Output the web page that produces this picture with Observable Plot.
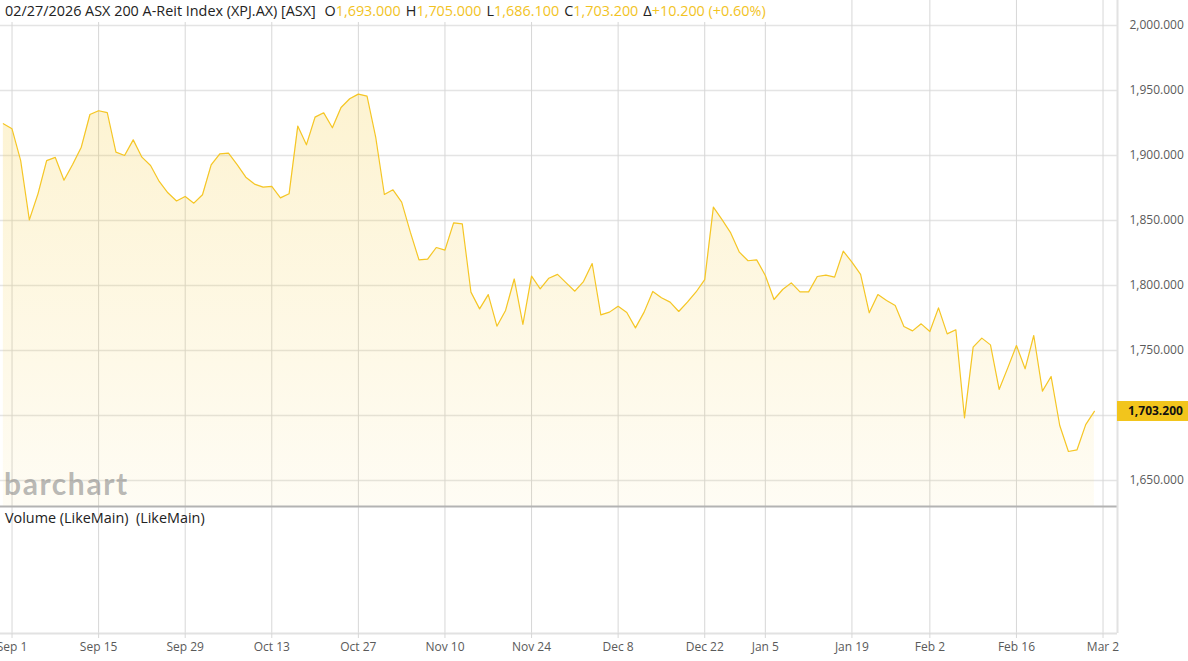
<!DOCTYPE html>
<html>
<head>
<meta charset="utf-8">
<script src="https://cdn.jsdelivr.net/npm/d3@7"></script>
<script src="https://cdn.jsdelivr.net/npm/@observablehq/plot@0.6"></script>
<style>
  html, body { margin: 0; padding: 0; background: #fff; }
  #wrap { position: relative; width: 1188px; height: 661px; overflow: hidden; font-family: "Open Sans", "Noto Sans", sans-serif; }
  #wrap svg { position: absolute; left: 0; top: 0; }
  #header { position: absolute; left: 0; top: 0; height: 22px; padding-left: 5px; padding-right: 8px; background: #fff; font-size: 14.4px; line-height: 22px; color: #222; white-space: nowrap; }
  #header .v { color: #f2c31f; }
  #header .k { margin-left: 5px; }
  #volume { position: absolute; left: 5px; top: 508px; font-size: 14.4px; color: #222; white-space: pre; }
  #brand { position: absolute; left: 4px; top: 465px; font-family: Lato, "Open Sans", sans-serif; font-weight: 700; font-size: 30px; color: rgba(140,140,140,0.62); letter-spacing: 1.6px; }
  #badge { position: absolute; left: 1117px; width: 71px; height: 20px; background: #f2c51c; color: #111; font-weight: 700; font-size: 12px; line-height: 20px; padding-left: 11px; box-sizing: border-box; }
</style>
</head>
<body>
<div id="wrap"></div>
<script>
// ---- Data ----
const dates = [
  "2025-08-29",
  "2025-09-01","2025-09-02","2025-09-03","2025-09-04","2025-09-05",
  "2025-09-08","2025-09-09","2025-09-10","2025-09-11","2025-09-12",
  "2025-09-15","2025-09-16","2025-09-17","2025-09-18","2025-09-19",
  "2025-09-22","2025-09-23","2025-09-24","2025-09-25","2025-09-26",
  "2025-09-29","2025-09-30","2025-10-01","2025-10-02","2025-10-03",
  "2025-10-06","2025-10-07","2025-10-08","2025-10-09","2025-10-10",
  "2025-10-13","2025-10-14","2025-10-15","2025-10-16","2025-10-17",
  "2025-10-20","2025-10-21","2025-10-22","2025-10-23","2025-10-24",
  "2025-10-27","2025-10-28","2025-10-29","2025-10-30","2025-10-31",
  "2025-11-03","2025-11-04","2025-11-05","2025-11-06","2025-11-07",
  "2025-11-10","2025-11-11","2025-11-12","2025-11-13","2025-11-14",
  "2025-11-17","2025-11-18","2025-11-19","2025-11-20","2025-11-21",
  "2025-11-24","2025-11-25","2025-11-26","2025-11-27","2025-11-28",
  "2025-12-01","2025-12-02","2025-12-03","2025-12-04","2025-12-05",
  "2025-12-08","2025-12-09","2025-12-10","2025-12-11","2025-12-12",
  "2025-12-15","2025-12-16","2025-12-17","2025-12-18","2025-12-19",
  "2025-12-22","2025-12-23","2025-12-24","2025-12-29","2025-12-30","2025-12-31",
  "2026-01-02","2026-01-05","2026-01-06","2026-01-07","2026-01-08","2026-01-09",
  "2026-01-12","2026-01-13","2026-01-14","2026-01-15","2026-01-16",
  "2026-01-19","2026-01-20","2026-01-21","2026-01-22","2026-01-23",
  "2026-01-27","2026-01-28","2026-01-29","2026-01-30",
  "2026-02-02","2026-02-03","2026-02-04","2026-02-05","2026-02-06",
  "2026-02-09","2026-02-10","2026-02-11","2026-02-12","2026-02-13",
  "2026-02-16","2026-02-17","2026-02-18","2026-02-19","2026-02-20",
  "2026-02-23","2026-02-24","2026-02-25","2026-02-26","2026-02-27"
];
const closes = [
  1924.4,
  1920.5,1896.0,1850.5,1870.5,1896.0,
  1898.5,1881.0,1893.0,1906.4,1931.5,
  1934.4,1933.0,1902.6,1900.0,1912.0,
  1898.7,1892.3,1880.0,1871.3,1865.0,
  1868.5,1863.3,1869.8,1892.8,1901.3,
  1901.8,1893.0,1883.3,1878.0,1875.6,
  1876.2,1867.4,1870.5,1922.6,1908.2,
  1929.5,1932.8,1921.3,1936.9,1943.6,
  1947.2,1945.6,1914.1,1870.0,1873.6,
  1864.1,1841.0,1819.7,1820.3,1829.2,
  1827.2,1848.2,1847.4,1794.9,1782.0,
  1793.0,1768.7,1780.8,1805.0,1770.0,
  1807.2,1797.4,1805.6,1808.5,1802.0,
  1795.6,1803.0,1816.9,1777.4,1779.5,
  1784.0,1779.2,1767.4,1779.5,1795.4,
  1790.5,1787.2,1780.0,1787.2,1795.0,
  1804.5,1860.3,1850.6,1840.4,1825.6,1819.0,
  1819.7,1807.7,1789.2,1796.9,1802.0,1795.1,
  1795.1,1806.9,1807.9,1806.4,1826.4,
  1818.0,1808.5,1779.0,1793.0,1788.5,
  1784.6,1768.5,1765.1,1770.5,
  1764.6,1782.8,1762.8,1765.9,1698.2,
  1752.6,1759.5,1754.3,1720.0,1736.6,
  1753.8,1735.9,1761.5,1718.7,1730.0,
  1692.3,1672.3,1673.6,1693.0,1703.2
];
const tickDates  = ["2025-09-01","2025-09-15","2025-09-29","2025-10-13","2025-10-27","2025-11-10","2025-11-24","2025-12-08","2025-12-22","2026-01-05","2026-01-19","2026-02-02","2026-02-16","2026-03-02"];
const tickLabels = ["Sep 1","Sep 15","Sep 29","Oct 13","Oct 27","Nov 10","Nov 24","Dec 8","Dec 22","Jan 5","Jan 19","Feb 2","Feb 16","Mar 2"];
const yTicks = [1650, 1700, 1750, 1800, 1850, 1900, 1950, 2000];
const headerTitle = "02/27/2026 ASX 200 A-Reit Index (XPJ.AX) [ASX]";
const headerKeys = ["O", "H", "L", "C", "Δ"];
const headerVals = ["1,693.000", "1,705.000", "1,686.100", "1,703.200", "+10.200 (+0.60%)"];
const volumeLabel = "Volume (LikeMain)  (LikeMain)";
const brandLabel = "barchart";

// ---- Scale setup ----
const xDomain = [-0.33, 128.67];
const yDomain = [1532.3, 2019.2];
const paneFloor = 1630;
const lineColor = "#f5c625";

const data = closes.map((v, i) => ({i, date: dates[i], v}));
const tickIdx = tickDates.map(d => { const k = dates.indexOf(d); return k >= 0 ? k : dates.length; });
const labelByIdx = new Map(tickIdx.map((k, j) => [k, tickLabels[j]]));
const fmt = d3.format(",.3f");
const last = closes[closes.length - 1];
// the last-price badge covers the tick label next to it
const yLabelTicks = yTicks.filter(t => Math.abs(t - last) > 12);

const chart = Plot.plot({
  width: 1188,
  height: 661,
  marginLeft: 0,
  marginRight: 71,
  marginTop: 0,
  marginBottom: 28,
  x: {type: "linear", domain: xDomain, axis: null},
  y: {domain: yDomain, axis: null},
  style: {fontFamily: "'Open Sans', 'Noto Sans', sans-serif", fontSize: "12px", color: "#5a5a5a", background: "transparent"},
  marks: [
    Plot.gridY(yTicks, {stroke: "#e4e4e4", strokeOpacity: 1, strokeWidth: 1.6}),
    Plot.gridX(tickIdx, {stroke: "#d7d7d7", strokeOpacity: 1, strokeWidth: 1}),
    Plot.areaY(data, {x: "i", y1: () => paneFloor, y2: "v", fill: "url(#areaGrad)"}),
    Plot.lineY(data, {x: "i", y: "v", stroke: lineColor, strokeWidth: 1.2}),
    Plot.ruleY([paneFloor], {stroke: "#b3b3b3", strokeWidth: 2}),
    Plot.ruleY([yDomain[0]], {stroke: "#e2e2e2", strokeWidth: 2}),
    Plot.ruleX([xDomain[1]], {stroke: "#e2e2e2", strokeWidth: 2}),
    Plot.axisX(tickIdx, {tickFormat: d => labelByIdx.get(d), tickSize: 5, tickPadding: 4, stroke: "#d7d7d7", fill: "#5a5a5a", label: null}),
    Plot.axisY(yLabelTicks, {anchor: "right", tickFormat: fmt, tickSize: 0, tickPadding: 12, fill: "#5a5a5a", label: null})
  ]
});

// gradient for the area fill
const ns = "http://www.w3.org/2000/svg";
const defs = document.createElementNS(ns, "defs");
const grad = document.createElementNS(ns, "linearGradient");
grad.setAttribute("id", "areaGrad");
grad.setAttribute("x1", "0"); grad.setAttribute("y1", "0");
grad.setAttribute("x2", "0"); grad.setAttribute("y2", "1");
[["0%", 0.21], ["100%", 0.05]].forEach(([off, op]) => {
  const s = document.createElementNS(ns, "stop");
  s.setAttribute("offset", off);
  s.setAttribute("stop-color", "#f5c625");
  s.setAttribute("stop-opacity", op);
  grad.appendChild(s);
});
defs.appendChild(grad);
chart.insertBefore(defs, chart.firstChild);

const wrap = document.getElementById("wrap");
wrap.appendChild(chart);

// watermark
const brand = document.createElement("div");
brand.id = "brand";
brand.textContent = brandLabel;
wrap.appendChild(brand);

// header
const header = document.createElement("div");
header.id = "header";
header.appendChild(document.createTextNode(headerTitle + " "));
headerKeys.forEach((k, j) => {
  const ks = document.createElement("span");
  ks.className = "k";
  ks.textContent = k;
  const vs = document.createElement("span");
  vs.className = "v";
  vs.textContent = headerVals[j];
  header.appendChild(ks);
  header.appendChild(vs);
});
wrap.appendChild(header);

// volume pane label
const vol = document.createElement("div");
vol.id = "volume";
vol.textContent = volumeLabel;
wrap.appendChild(vol);

// last price badge
const badge = document.createElement("div");
badge.id = "badge";
badge.textContent = fmt(last);
badge.style.top = (chart.scale("y").apply(last) - 10) + "px";
wrap.appendChild(badge);
</script>
</body>
</html>
